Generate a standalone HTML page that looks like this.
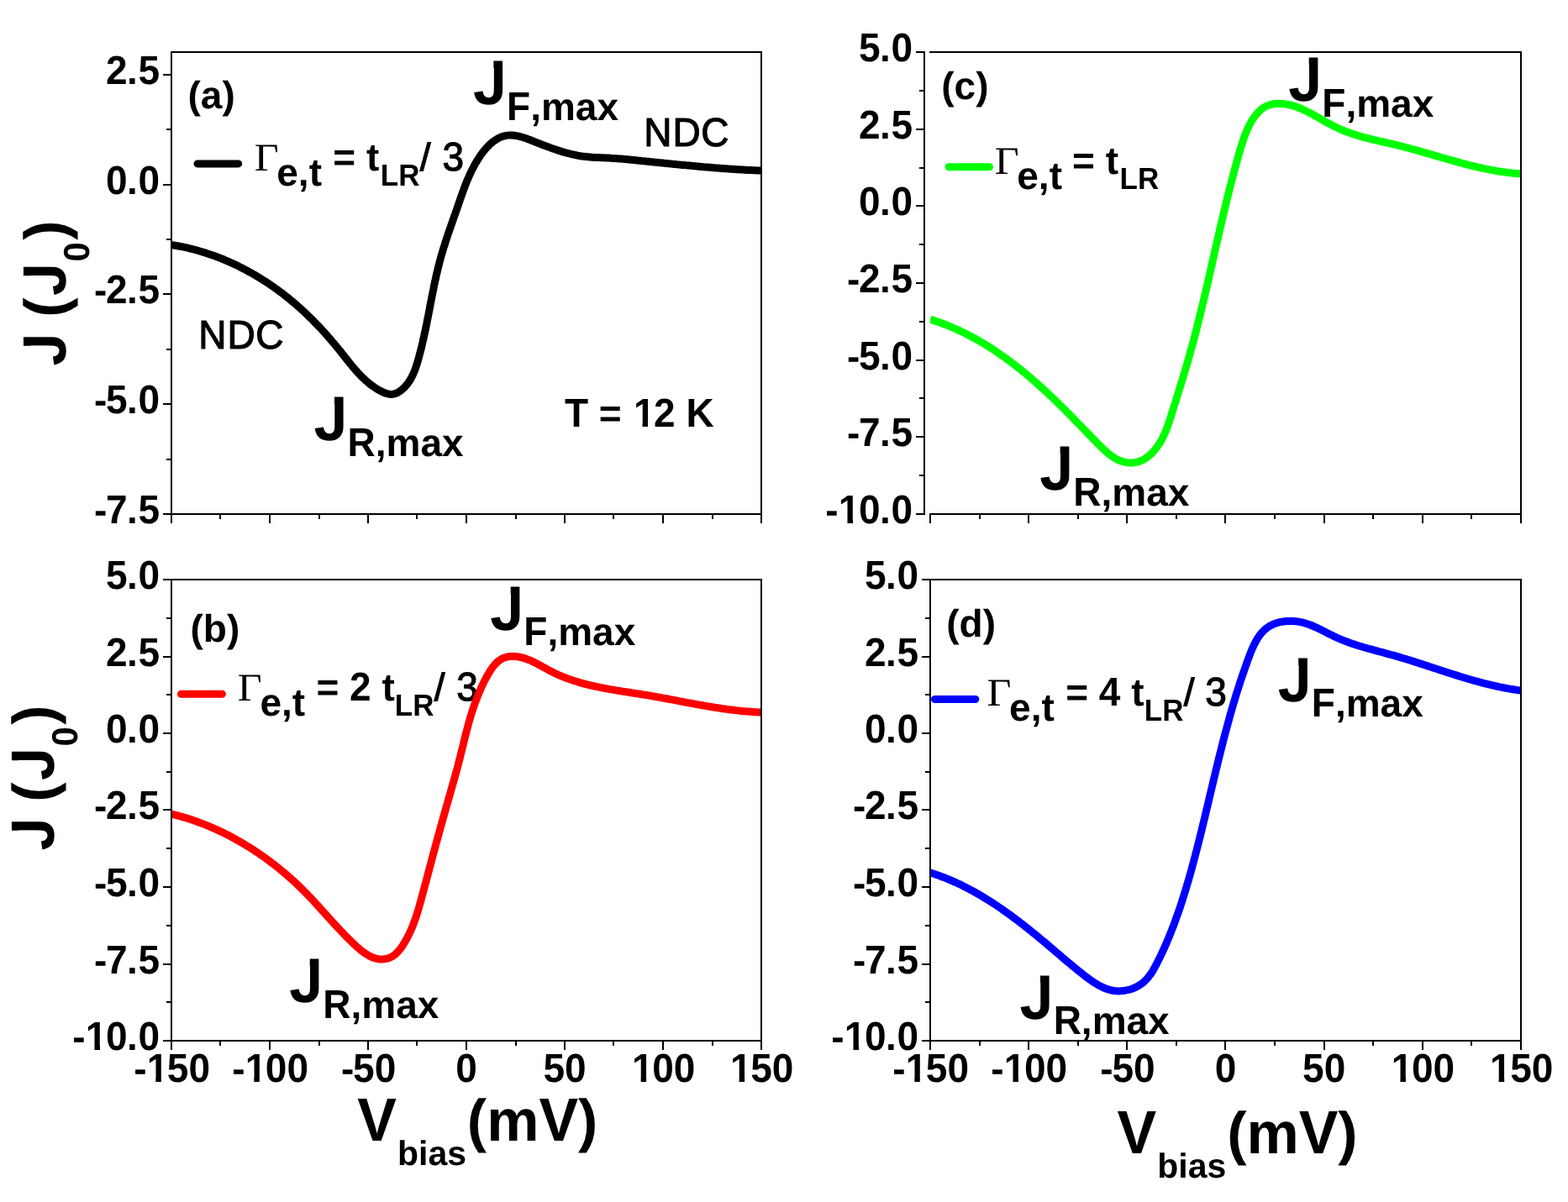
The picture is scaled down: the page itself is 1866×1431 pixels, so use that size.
<!DOCTYPE html>
<html lang="en"><head><meta charset="utf-8"><title>J versus V bias</title>
<style>
html,body{margin:0;padding:0;background:#fff;}
body{width:1866px;height:1431px;overflow:hidden;}
svg{display:block;}
text{fill:#000;font-kerning:none;font-variant-ligatures:none;text-rendering:geometricPrecision;white-space:pre;}
.b{font-family:'Liberation Sans', Arial, Helvetica, sans-serif;font-weight:bold;}
.r{font-family:'Liberation Sans', Arial, Helvetica, sans-serif;font-weight:normal;stroke:#000;stroke-width:1.15px;}
.g{font-family:'Liberation Serif', 'Times New Roman', serif;font-weight:normal;}
.cv{fill:none;stroke-width:9;stroke-linejoin:round;stroke-linecap:butt;}
</style></head><body>
<svg width="1866" height="1431" viewBox="0 0 1866 1431">
<rect width="1866" height="1431" fill="#fff"/>
<defs>
<clipPath id="clipa"><rect x="204" y="62" width="701" height="550"/></clipPath>
<clipPath id="clipb"><rect x="204" y="690" width="701" height="549"/></clipPath>
<clipPath id="clipc"><rect x="1107" y="62" width="702" height="550"/></clipPath>
<clipPath id="clipd"><rect x="1107" y="690" width="702" height="549"/></clipPath>
<clipPath id="jc"><path d="M33.9,-80 H60 V10 H-5 V-27 H33.9 Z"/></clipPath>
<clipPath id="oc"><path d="M-5,-80 H60 V-10.4 H37.3 V3 H23.1 V-10.4 H-5 Z"/></clipPath>
</defs>
<g id="legends">
<line x1="235.0" y1="194.9" x2="283.7" y2="194.9" stroke="#000000" stroke-width="9" stroke-linecap="round"/>
<line x1="215.5" y1="826.3" x2="264.4" y2="826.3" stroke="#ff0000" stroke-width="9" stroke-linecap="round"/>
<line x1="1129.1" y1="198.7" x2="1177.5" y2="198.7" stroke="#00ff00" stroke-width="9" stroke-linecap="round"/>
<line x1="1112.5" y1="832.5" x2="1160.8" y2="832.5" stroke="#0000ff" stroke-width="9" stroke-linecap="round"/>
<text class="g" font-size="46" transform="translate(302.70,203.00) scale(1.085,1.015)">Γ</text>
<text class="b" font-size="46" x="329.29" y="221.00">e,t</text>
<text class="b" font-size="46" x="383.58" y="203.00"> = t</text>
<text class="b" font-size="35" transform="translate(452.82,221.00) scale(1,1.04)">LR</text>
<text class="r" font-size="46" x="499.77" y="203.00">/</text>
<text class="r" font-size="46" transform="translate(526.53,203.00) scale(1,1.04)">3</text>
<text class="g" font-size="46" transform="translate(282.80,834.00) scale(1.085,1.015)">Γ</text>
<text class="b" font-size="46" x="309.39" y="852.00">e,t</text>
<text class="b" font-size="46" x="363.68" y="834.00"> = </text>
<text class="b" font-size="46" transform="translate(416.10,834.00) scale(1,1.04)">2</text>
<text class="b" font-size="46" x="441.68" y="834.00"> t</text>
<text class="b" font-size="35" transform="translate(469.78,852.00) scale(1,1.04)">LR</text>
<text class="r" font-size="46" x="516.74" y="834.00">/</text>
<text class="r" font-size="46" transform="translate(543.30,834.00) scale(1,1.04)">3</text>
<text class="g" font-size="46" transform="translate(1183.70,207.00) scale(1.085,1.015)">Γ</text>
<text class="b" font-size="46" x="1210.29" y="225.00">e,t</text>
<text class="b" font-size="46" x="1263.28" y="207.00"> = t</text>
<text class="b" font-size="35" transform="translate(1332.52,225.00) scale(1,1.04)">LR</text>
<text class="g" font-size="46" transform="translate(1174.50,840.00) scale(1.085,1.015)">Γ</text>
<text class="b" font-size="46" x="1201.09" y="858.00">e,t</text>
<text class="b" font-size="46" x="1255.38" y="840.00"> = </text>
<text class="b" font-size="46" transform="translate(1307.80,840.00) scale(1,1.04)">4</text>
<text class="b" font-size="46" x="1333.38" y="840.00"> t</text>
<text class="b" font-size="35" transform="translate(1361.78,858.00) scale(1,1.04)">LR</text>
<text class="r" font-size="46" x="1408.74" y="840.00">/ </text>
<text class="r" font-size="46" transform="translate(1434.30,840.00) scale(1,1.04)">3</text>
</g>
<g id="curves">
<path class="cv" clip-path="url(#clipa)" stroke="#000000" d="M204.1,291.6 L206.5,292.0 L208.9,292.4 L211.4,292.8 L213.8,293.2 L216.2,293.7 L218.6,294.2 L221.0,294.7 L223.4,295.2 L225.8,295.8 L228.2,296.4 L230.6,297.0 L232.9,297.6 L235.3,298.3 L237.7,299.0 L240.0,299.7 L242.4,300.4 L244.7,301.1 L247.1,301.9 L249.4,302.7 L251.7,303.5 L254.1,304.3 L256.4,305.1 L258.7,306.0 L261.0,306.9 L263.3,307.8 L265.6,308.7 L267.8,309.7 L270.1,310.6 L272.4,311.6 L274.6,312.6 L276.9,313.6 L279.1,314.7 L281.3,315.7 L283.6,316.8 L285.8,317.9 L288.0,319.0 L290.2,320.2 L292.4,321.3 L294.5,322.5 L296.7,323.7 L298.9,324.9 L301.0,326.1 L303.2,327.3 L305.3,328.6 L307.4,329.9 L309.5,331.2 L311.6,332.5 L313.7,333.8 L315.8,335.1 L317.9,336.5 L319.9,337.8 L322.0,339.2 L324.0,340.6 L326.0,342.0 L328.0,343.5 L330.0,344.9 L332.0,346.4 L334.0,347.9 L336.0,349.3 L337.9,350.8 L339.9,352.4 L341.8,353.9 L343.7,355.4 L345.6,357.0 L347.5,358.6 L349.4,360.1 L351.3,361.7 L353.1,363.3 L355.0,365.0 L356.8,366.6 L358.6,368.3 L360.5,369.9 L362.3,371.6 L364.0,373.3 L365.8,375.0 L367.6,376.7 L369.3,378.4 L371.1,380.1 L372.8,381.9 L374.5,383.6 L376.2,385.4 L377.9,387.1 L379.6,388.9 L381.3,390.7 L383.0,392.5 L384.7,394.3 L386.3,396.2 L388.0,398.0 L389.6,399.8 L391.2,401.7 L392.8,403.5 L394.4,405.4 L396.0,407.3 L397.6,409.2 L399.2,411.1 L400.8,413.0 L402.3,414.9 L403.9,416.8 L405.5,418.7 L407.0,420.7 L408.5,422.6 L410.1,424.6 L411.6,426.5 L413.1,428.5 L414.7,430.4 L416.2,432.3 L417.8,434.2 L419.4,436.2 L420.9,438.0 L422.5,439.9 L424.2,441.8 L425.8,443.6 L427.5,445.4 L429.2,447.2 L430.9,448.9 L432.7,450.6 L434.5,452.3 L436.3,453.9 L438.2,455.5 L440.1,457.1 L442.0,458.6 L444.1,460.0 L446.1,461.4 L448.2,462.8 L450.4,464.1 L452.6,465.3 L454.9,466.5 L457.3,467.5 L459.6,468.4 L462.0,469.0 L464.4,469.4 L466.7,469.4 L469.0,469.0 L471.2,468.3 L473.4,467.3 L475.4,466.0 L477.4,464.6 L479.3,463.0 L481.1,461.4 L482.7,459.6 L484.3,457.8 L485.7,455.9 L487.1,453.9 L488.4,451.8 L489.5,449.7 L490.7,447.6 L491.7,445.3 L492.7,443.1 L493.6,440.8 L494.5,438.4 L495.3,436.1 L496.1,433.7 L496.8,431.3 L497.5,428.9 L498.2,426.5 L498.8,424.0 L499.5,421.6 L500.1,419.2 L500.7,416.7 L501.4,414.3 L501.9,411.9 L502.5,409.5 L503.1,407.0 L503.6,404.6 L504.2,402.2 L504.7,399.8 L505.2,397.4 L505.8,394.9 L506.3,392.5 L506.8,390.1 L507.3,387.7 L507.8,385.3 L508.2,382.8 L508.7,380.4 L509.2,378.0 L509.7,375.6 L510.1,373.2 L510.6,370.8 L511.1,368.4 L511.5,366.0 L512.0,363.5 L512.4,361.1 L512.9,358.7 L513.4,356.3 L513.8,353.9 L514.3,351.5 L514.8,349.1 L515.3,346.7 L515.8,344.3 L516.2,341.9 L516.7,339.5 L517.2,337.1 L517.8,334.7 L518.3,332.3 L518.8,329.9 L519.3,327.5 L519.9,325.2 L520.5,322.8 L521.0,320.4 L521.6,318.0 L522.2,315.6 L522.8,313.2 L523.4,310.8 L524.1,308.5 L524.7,306.1 L525.4,303.7 L526.1,301.3 L526.8,299.0 L527.5,296.6 L528.2,294.2 L529.0,291.9 L529.7,289.5 L530.5,287.1 L531.2,284.8 L532.0,282.4 L532.8,280.1 L533.6,277.7 L534.4,275.4 L535.2,273.0 L536.0,270.7 L536.8,268.3 L537.7,266.0 L538.5,263.6 L539.3,261.3 L540.1,259.0 L540.9,256.6 L541.8,254.3 L542.6,252.0 L543.4,249.7 L544.2,247.3 L545.0,245.0 L545.8,242.7 L546.6,240.4 L547.4,238.1 L548.2,235.8 L549.0,233.5 L549.8,231.2 L550.6,228.9 L551.5,226.6 L552.3,224.3 L553.2,222.1 L554.0,219.8 L554.9,217.5 L555.8,215.3 L556.8,213.0 L557.8,210.8 L558.7,208.5 L559.8,206.3 L560.8,204.1 L561.9,201.9 L563.1,199.7 L564.2,197.5 L565.4,195.3 L566.7,193.1 L568.0,190.9 L569.4,188.8 L570.8,186.6 L572.2,184.5 L573.7,182.4 L575.3,180.4 L576.9,178.4 L578.6,176.4 L580.3,174.6 L582.0,172.8 L583.8,171.1 L585.7,169.5 L587.6,168.0 L589.6,166.7 L591.6,165.4 L593.7,164.3 L595.8,163.3 L598.0,162.5 L600.2,161.9 L602.5,161.4 L604.8,161.1 L607.2,161.0 L609.6,161.1 L612.1,161.3 L614.6,161.7 L617.1,162.2 L619.6,162.8 L622.0,163.5 L624.5,164.3 L626.9,165.1 L629.2,166.0 L631.5,166.8 L633.8,167.7 L636.0,168.6 L638.3,169.5 L640.5,170.4 L642.8,171.3 L645.1,172.2 L647.3,173.0 L649.6,173.9 L652.0,174.8 L654.3,175.6 L656.6,176.5 L658.9,177.3 L661.3,178.1 L663.6,178.9 L666.0,179.6 L668.4,180.4 L670.8,181.1 L673.1,181.8 L675.5,182.4 L677.9,183.0 L680.4,183.6 L682.8,184.2 L685.2,184.7 L687.6,185.2 L690.0,185.6 L692.5,186.0 L694.9,186.3 L697.3,186.6 L699.8,186.8 L702.2,187.0 L704.7,187.2 L707.1,187.4 L709.6,187.5 L712.0,187.6 L714.5,187.7 L716.9,187.8 L719.4,187.9 L721.8,188.0 L724.3,188.1 L726.7,188.3 L729.2,188.4 L731.6,188.6 L734.1,188.7 L736.5,188.9 L739.0,189.1 L741.4,189.3 L743.9,189.6 L746.4,189.8 L748.8,190.0 L751.3,190.3 L753.7,190.5 L756.2,190.7 L758.6,191.0 L761.1,191.2 L763.5,191.5 L766.0,191.7 L768.4,192.0 L770.9,192.2 L773.3,192.5 L775.8,192.7 L778.2,193.0 L780.7,193.2 L783.1,193.5 L785.6,193.7 L788.0,193.9 L790.5,194.2 L793.0,194.4 L795.4,194.7 L797.9,194.9 L800.3,195.2 L802.8,195.4 L805.2,195.7 L807.7,195.9 L810.1,196.2 L812.6,196.4 L815.0,196.6 L817.5,196.9 L819.9,197.1 L822.4,197.3 L824.8,197.6 L827.3,197.8 L829.8,198.0 L832.2,198.2 L834.7,198.4 L837.1,198.7 L839.6,198.9 L842.0,199.1 L844.5,199.3 L846.9,199.5 L849.4,199.7 L851.9,199.9 L854.3,200.1 L856.8,200.3 L859.2,200.5 L861.7,200.7 L864.2,200.8 L866.6,201.0 L869.1,201.2 L871.5,201.3 L874.0,201.5 L876.5,201.7 L878.9,201.8 L881.4,202.0 L883.8,202.1 L886.3,202.2 L888.8,202.4 L891.2,202.5 L893.7,202.6 L896.2,202.7 L898.6,202.8 L901.1,202.9 L903.6,203.0 L906.0,203.1"/>
<path class="cv" clip-path="url(#clipb)" stroke="#ff0000" d="M204.3,969.1 L206.8,969.7 L209.2,970.4 L211.7,971.0 L214.1,971.7 L216.5,972.4 L219.0,973.1 L221.4,973.8 L223.8,974.6 L226.2,975.3 L228.7,976.1 L231.1,977.0 L233.5,977.8 L235.9,978.7 L238.3,979.6 L240.6,980.5 L243.0,981.4 L245.4,982.4 L247.8,983.3 L250.1,984.3 L252.5,985.3 L254.8,986.4 L257.2,987.4 L259.5,988.5 L261.8,989.6 L264.2,990.7 L266.5,991.8 L268.8,993.0 L271.1,994.1 L273.4,995.3 L275.7,996.5 L277.9,997.8 L280.2,999.0 L282.5,1000.3 L284.7,1001.5 L287.0,1002.8 L289.2,1004.1 L291.4,1005.5 L293.6,1006.8 L295.8,1008.2 L298.0,1009.5 L300.2,1010.9 L302.4,1012.3 L304.5,1013.8 L306.7,1015.2 L308.8,1016.7 L311.0,1018.1 L313.1,1019.6 L315.2,1021.1 L317.3,1022.6 L319.4,1024.2 L321.4,1025.7 L323.5,1027.3 L325.6,1028.8 L327.6,1030.4 L329.6,1032.0 L331.6,1033.6 L333.6,1035.3 L335.6,1036.9 L337.6,1038.5 L339.6,1040.2 L341.5,1041.9 L343.4,1043.6 L345.4,1045.3 L347.3,1047.0 L349.2,1048.7 L351.1,1050.4 L352.9,1052.2 L354.8,1053.9 L356.6,1055.7 L358.4,1057.5 L360.2,1059.3 L362.0,1061.1 L363.8,1062.9 L365.6,1064.7 L367.3,1066.5 L369.1,1068.4 L370.8,1070.2 L372.5,1072.0 L374.3,1073.9 L376.0,1075.8 L377.7,1077.6 L379.4,1079.5 L381.1,1081.4 L382.8,1083.3 L384.5,1085.1 L386.2,1087.0 L387.9,1088.9 L389.6,1090.8 L391.3,1092.7 L393.0,1094.6 L394.8,1096.5 L396.5,1098.4 L398.2,1100.3 L400.0,1102.2 L401.7,1104.1 L403.5,1106.0 L405.3,1107.9 L407.1,1109.7 L408.9,1111.6 L410.7,1113.5 L412.5,1115.4 L414.4,1117.2 L416.3,1119.1 L418.2,1121.0 L420.1,1122.8 L422.0,1124.7 L424.0,1126.5 L426.0,1128.3 L428.0,1130.0 L430.1,1131.7 L432.1,1133.3 L434.3,1134.8 L436.4,1136.2 L438.6,1137.5 L440.8,1138.7 L443.0,1139.7 L445.3,1140.5 L447.6,1141.2 L450.0,1141.7 L452.4,1141.9 L454.8,1142.0 L457.3,1141.8 L459.8,1141.4 L462.2,1140.7 L464.6,1139.8 L466.8,1138.7 L468.9,1137.3 L470.9,1135.7 L472.7,1133.9 L474.5,1132.0 L476.1,1130.0 L477.7,1127.9 L479.2,1125.7 L480.6,1123.5 L481.9,1121.3 L483.2,1119.0 L484.5,1116.7 L485.7,1114.4 L486.8,1112.1 L487.9,1109.8 L489.0,1107.5 L490.0,1105.1 L491.0,1102.7 L491.9,1100.3 L492.8,1097.9 L493.7,1095.5 L494.6,1093.1 L495.4,1090.7 L496.2,1088.2 L496.9,1085.8 L497.7,1083.3 L498.4,1080.9 L499.1,1078.4 L499.8,1075.9 L500.5,1073.5 L501.2,1071.0 L501.8,1068.5 L502.5,1066.0 L503.2,1063.5 L503.8,1061.0 L504.5,1058.6 L505.2,1056.1 L505.8,1053.6 L506.5,1051.1 L507.2,1048.6 L507.8,1046.1 L508.5,1043.6 L509.1,1041.2 L509.8,1038.7 L510.5,1036.2 L511.1,1033.7 L511.8,1031.2 L512.5,1028.7 L513.1,1026.3 L513.8,1023.8 L514.4,1021.3 L515.1,1018.8 L515.8,1016.3 L516.4,1013.8 L517.1,1011.4 L517.8,1008.9 L518.4,1006.4 L519.1,1003.9 L519.8,1001.5 L520.5,999.0 L521.1,996.5 L521.8,994.0 L522.5,991.5 L523.2,989.1 L523.9,986.6 L524.5,984.1 L525.2,981.7 L525.9,979.2 L526.6,976.7 L527.3,974.2 L528.0,971.8 L528.7,969.3 L529.4,966.8 L530.1,964.4 L530.8,961.9 L531.5,959.4 L532.2,957.0 L532.9,954.5 L533.6,952.0 L534.3,949.6 L535.0,947.1 L535.7,944.7 L536.4,942.2 L537.1,939.7 L537.8,937.3 L538.5,934.8 L539.2,932.3 L539.9,929.8 L540.6,927.4 L541.3,924.9 L542.0,922.4 L542.7,919.9 L543.4,917.5 L544.0,915.0 L544.7,912.5 L545.3,910.0 L546.0,907.5 L546.6,905.0 L547.3,902.5 L547.9,900.0 L548.5,897.5 L549.1,895.0 L549.8,892.5 L550.4,890.0 L551.0,887.5 L551.6,884.9 L552.2,882.4 L552.8,879.9 L553.5,877.4 L554.1,874.9 L554.7,872.4 L555.4,869.9 L556.0,867.5 L556.7,865.0 L557.3,862.5 L558.0,860.0 L558.7,857.6 L559.4,855.1 L560.1,852.7 L560.9,850.3 L561.6,847.9 L562.4,845.4 L563.2,843.1 L564.0,840.7 L564.8,838.3 L565.7,835.9 L566.6,833.6 L567.5,831.2 L568.4,828.8 L569.4,826.5 L570.4,824.1 L571.4,821.8 L572.4,819.4 L573.5,817.0 L574.7,814.6 L575.8,812.2 L577.0,809.8 L578.3,807.4 L579.6,805.0 L580.9,802.6 L582.3,800.3 L583.7,798.0 L585.3,795.7 L586.8,793.6 L588.5,791.6 L590.2,789.8 L592.0,788.0 L593.9,786.5 L595.9,785.1 L598.0,783.9 L600.1,783.0 L602.4,782.3 L604.7,781.8 L607.1,781.5 L609.6,781.4 L612.1,781.4 L614.6,781.6 L617.2,782.0 L619.7,782.5 L622.2,783.2 L624.7,783.9 L627.2,784.8 L629.6,785.7 L632.0,786.7 L634.4,787.8 L636.7,788.9 L639.0,790.1 L641.3,791.4 L643.6,792.6 L645.9,793.9 L648.2,795.1 L650.5,796.4 L652.8,797.7 L655.1,798.9 L657.4,800.0 L659.7,801.2 L662.0,802.3 L664.3,803.3 L666.7,804.3 L669.1,805.3 L671.4,806.3 L673.8,807.2 L676.2,808.1 L678.6,808.9 L681.0,809.8 L683.5,810.6 L685.9,811.3 L688.3,812.1 L690.8,812.8 L693.2,813.5 L695.7,814.1 L698.2,814.8 L700.6,815.4 L703.1,816.0 L705.6,816.5 L708.1,817.1 L710.6,817.6 L713.1,818.2 L715.6,818.7 L718.2,819.2 L720.7,819.6 L723.2,820.1 L725.7,820.6 L728.3,821.0 L730.8,821.4 L733.3,821.9 L735.9,822.3 L738.4,822.7 L741.0,823.1 L743.5,823.5 L746.1,823.9 L748.6,824.3 L751.2,824.7 L753.7,825.1 L756.2,825.5 L758.8,825.9 L761.3,826.3 L763.9,826.7 L766.4,827.1 L769.0,827.5 L771.5,827.9 L774.0,828.3 L776.6,828.8 L779.1,829.2 L781.7,829.7 L784.2,830.1 L786.7,830.6 L789.2,831.1 L791.8,831.5 L794.3,832.0 L796.8,832.5 L799.3,832.9 L801.9,833.4 L804.4,833.9 L806.9,834.4 L809.4,834.9 L811.9,835.3 L814.5,835.8 L817.0,836.3 L819.5,836.8 L822.0,837.2 L824.5,837.7 L827.1,838.2 L829.6,838.6 L832.1,839.1 L834.6,839.5 L837.1,840.0 L839.7,840.4 L842.2,840.9 L844.7,841.3 L847.2,841.7 L849.8,842.1 L852.3,842.5 L854.8,842.9 L857.4,843.3 L859.9,843.7 L862.5,844.0 L865.0,844.4 L867.5,844.7 L870.1,845.0 L872.6,845.3 L875.2,845.6 L877.8,845.9 L880.3,846.2 L882.9,846.5 L885.4,846.7 L888.0,846.9 L890.6,847.1 L893.2,847.3 L895.7,847.5 L898.3,847.7 L900.9,847.8 L903.5,847.9 L906.1,848.0"/>
<path class="cv" clip-path="url(#clipc)" stroke="#00ff00" d="M1107.1,380.3 L1109.7,381.1 L1112.3,381.9 L1114.8,382.8 L1117.4,383.6 L1119.9,384.5 L1122.5,385.5 L1125.0,386.4 L1127.5,387.4 L1130.0,388.4 L1132.5,389.5 L1135.0,390.6 L1137.5,391.6 L1139.9,392.8 L1142.4,393.9 L1144.8,395.1 L1147.3,396.3 L1149.7,397.5 L1152.1,398.7 L1154.5,400.0 L1156.9,401.2 L1159.3,402.5 L1161.7,403.8 L1164.0,405.2 L1166.4,406.6 L1168.7,407.9 L1171.1,409.3 L1173.4,410.8 L1175.7,412.2 L1178.0,413.6 L1180.3,415.1 L1182.6,416.6 L1184.9,418.1 L1187.1,419.7 L1189.4,421.2 L1191.6,422.8 L1193.8,424.3 L1196.1,425.9 L1198.3,427.5 L1200.5,429.1 L1202.7,430.8 L1204.8,432.4 L1207.0,434.1 L1209.2,435.7 L1211.3,437.4 L1213.5,439.1 L1215.6,440.8 L1217.7,442.6 L1219.8,444.3 L1221.9,446.0 L1224.0,447.8 L1226.1,449.5 L1228.2,451.3 L1230.2,453.1 L1232.3,454.9 L1234.3,456.7 L1236.3,458.5 L1238.3,460.3 L1240.3,462.1 L1242.3,463.9 L1244.3,465.8 L1246.3,467.6 L1248.2,469.4 L1250.2,471.3 L1252.1,473.1 L1254.1,475.0 L1256.0,476.8 L1257.9,478.7 L1259.9,480.6 L1261.8,482.5 L1263.7,484.4 L1265.6,486.3 L1267.5,488.1 L1269.4,490.1 L1271.3,492.0 L1273.2,493.9 L1275.0,495.8 L1276.9,497.7 L1278.8,499.7 L1280.7,501.6 L1282.6,503.5 L1284.5,505.5 L1286.4,507.4 L1288.3,509.4 L1290.2,511.4 L1292.1,513.3 L1294.0,515.3 L1295.9,517.3 L1297.9,519.3 L1299.8,521.3 L1301.7,523.3 L1303.7,525.3 L1305.6,527.3 L1307.6,529.3 L1309.6,531.3 L1311.6,533.3 L1313.6,535.2 L1315.7,537.1 L1317.7,538.9 L1319.9,540.7 L1322.0,542.3 L1324.2,543.9 L1326.5,545.3 L1328.8,546.6 L1331.2,547.8 L1333.6,548.7 L1336.1,549.5 L1338.6,550.2 L1341.2,550.6 L1343.9,550.9 L1346.5,550.9 L1349.2,550.7 L1351.8,550.4 L1354.3,549.8 L1356.9,548.9 L1359.3,547.9 L1361.7,546.7 L1363.9,545.2 L1366.1,543.6 L1368.2,541.9 L1370.2,540.0 L1372.2,538.0 L1374.0,536.0 L1375.7,533.8 L1377.3,531.6 L1378.9,529.4 L1380.3,527.1 L1381.7,524.8 L1383.0,522.4 L1384.2,520.0 L1385.4,517.5 L1386.5,515.0 L1387.6,512.5 L1388.6,510.0 L1389.5,507.4 L1390.4,504.8 L1391.3,502.2 L1392.2,499.6 L1393.1,497.0 L1393.9,494.4 L1394.7,491.8 L1395.5,489.1 L1396.3,486.5 L1397.2,483.9 L1398.0,481.3 L1398.8,478.7 L1399.6,476.1 L1400.4,473.5 L1401.2,470.9 L1402.0,468.3 L1402.8,465.7 L1403.6,463.1 L1404.4,460.5 L1405.2,457.9 L1406.0,455.3 L1406.8,452.7 L1407.6,450.1 L1408.4,447.5 L1409.2,444.9 L1410.0,442.3 L1410.7,439.7 L1411.5,437.1 L1412.3,434.5 L1413.0,431.9 L1413.8,429.3 L1414.5,426.7 L1415.3,424.1 L1416.0,421.5 L1416.7,418.9 L1417.4,416.3 L1418.2,413.7 L1418.9,411.1 L1419.6,408.5 L1420.3,405.9 L1421.0,403.2 L1421.7,400.6 L1422.3,398.0 L1423.0,395.4 L1423.7,392.8 L1424.4,390.1 L1425.0,387.5 L1425.7,384.9 L1426.4,382.2 L1427.0,379.6 L1427.7,377.0 L1428.3,374.3 L1429.0,371.7 L1429.6,369.1 L1430.2,366.4 L1430.9,363.8 L1431.5,361.2 L1432.1,358.5 L1432.8,355.9 L1433.4,353.2 L1434.0,350.6 L1434.6,347.9 L1435.2,345.3 L1435.9,342.7 L1436.5,340.0 L1437.1,337.4 L1437.7,334.7 L1438.3,332.1 L1438.9,329.4 L1439.5,326.8 L1440.1,324.1 L1440.7,321.5 L1441.3,318.8 L1441.9,316.2 L1442.5,313.5 L1443.1,310.9 L1443.7,308.2 L1444.3,305.6 L1444.9,302.9 L1445.5,300.3 L1446.1,297.6 L1446.7,295.0 L1447.3,292.3 L1447.9,289.7 L1448.5,287.0 L1449.2,284.4 L1449.8,281.7 L1450.4,279.1 L1451.0,276.4 L1451.6,273.8 L1452.2,271.1 L1452.8,268.5 L1453.4,265.8 L1454.0,263.2 L1454.7,260.5 L1455.3,257.9 L1455.9,255.2 L1456.5,252.6 L1457.2,249.9 L1457.8,247.3 L1458.4,244.7 L1459.1,242.0 L1459.7,239.4 L1460.4,236.7 L1461.0,234.1 L1461.7,231.5 L1462.3,228.8 L1463.0,226.2 L1463.6,223.6 L1464.3,220.9 L1465.0,218.3 L1465.6,215.7 L1466.3,213.1 L1467.0,210.4 L1467.7,207.8 L1468.4,205.2 L1469.1,202.6 L1469.8,199.9 L1470.5,197.3 L1471.2,194.7 L1472.0,192.1 L1472.7,189.5 L1473.4,186.9 L1474.2,184.3 L1474.9,181.7 L1475.7,179.1 L1476.4,176.5 L1477.2,173.9 L1478.0,171.3 L1478.8,168.7 L1479.7,166.1 L1480.6,163.5 L1481.5,161.0 L1482.5,158.4 L1483.6,155.9 L1484.7,153.3 L1485.9,150.8 L1487.2,148.3 L1488.5,145.9 L1489.9,143.4 L1491.5,141.1 L1493.1,138.8 L1494.8,136.6 L1496.6,134.5 L1498.4,132.5 L1500.4,130.7 L1502.5,129.1 L1504.6,127.7 L1506.9,126.4 L1509.3,125.4 L1511.7,124.6 L1514.3,124.0 L1516.9,123.6 L1519.5,123.4 L1522.1,123.3 L1524.8,123.4 L1527.5,123.6 L1530.2,124.0 L1532.8,124.4 L1535.4,125.0 L1538.0,125.7 L1540.5,126.5 L1543.1,127.3 L1545.6,128.3 L1548.1,129.3 L1550.6,130.4 L1553.0,131.6 L1555.5,132.8 L1558.0,134.0 L1560.4,135.3 L1562.8,136.6 L1565.2,138.0 L1567.7,139.3 L1570.1,140.7 L1572.5,142.1 L1574.9,143.5 L1577.3,144.9 L1579.8,146.2 L1582.2,147.5 L1584.6,148.8 L1587.1,150.1 L1589.5,151.3 L1592.0,152.5 L1594.5,153.6 L1597.0,154.7 L1599.5,155.7 L1602.1,156.7 L1604.6,157.6 L1607.1,158.5 L1609.7,159.4 L1612.3,160.2 L1614.8,161.0 L1617.4,161.8 L1620.0,162.6 L1622.6,163.3 L1625.2,164.0 L1627.8,164.6 L1630.4,165.3 L1633.1,165.9 L1635.7,166.6 L1638.3,167.2 L1640.9,167.8 L1643.6,168.4 L1646.2,169.0 L1648.8,169.6 L1651.5,170.2 L1654.1,170.8 L1656.8,171.4 L1659.4,172.1 L1662.0,172.7 L1664.7,173.3 L1667.3,174.0 L1669.9,174.7 L1672.5,175.3 L1675.2,176.0 L1677.8,176.7 L1680.4,177.5 L1683.0,178.2 L1685.6,178.9 L1688.3,179.6 L1690.9,180.4 L1693.5,181.1 L1696.1,181.9 L1698.7,182.6 L1701.3,183.4 L1704.0,184.1 L1706.6,184.9 L1709.2,185.7 L1711.8,186.4 L1714.4,187.2 L1717.0,188.0 L1719.6,188.7 L1722.3,189.5 L1724.9,190.2 L1727.5,190.9 L1730.1,191.7 L1732.7,192.4 L1735.4,193.1 L1738.0,193.8 L1740.6,194.5 L1743.2,195.2 L1745.9,195.9 L1748.5,196.6 L1751.1,197.2 L1753.8,197.9 L1756.4,198.5 L1759.1,199.1 L1761.7,199.7 L1764.3,200.3 L1767.0,200.9 L1769.7,201.4 L1772.3,201.9 L1775.0,202.4 L1777.7,202.9 L1780.3,203.4 L1783.0,203.8 L1785.7,204.3 L1788.4,204.6 L1791.1,205.0 L1793.8,205.4 L1796.5,205.7 L1799.2,206.0 L1801.9,206.2 L1804.6,206.4 L1807.3,206.7 L1810.0,206.8"/>
<path class="cv" clip-path="url(#clipd)" stroke="#0000ff" d="M1106.9,1038.8 L1109.5,1039.7 L1112.0,1040.5 L1114.6,1041.4 L1117.1,1042.3 L1119.6,1043.2 L1122.1,1044.2 L1124.6,1045.1 L1127.1,1046.1 L1129.6,1047.2 L1132.1,1048.2 L1134.5,1049.3 L1136.9,1050.4 L1139.4,1051.5 L1141.8,1052.6 L1144.2,1053.8 L1146.6,1055.0 L1149.0,1056.2 L1151.4,1057.4 L1153.7,1058.7 L1156.1,1059.9 L1158.4,1061.2 L1160.7,1062.5 L1163.1,1063.8 L1165.4,1065.2 L1167.7,1066.5 L1170.0,1067.9 L1172.3,1069.3 L1174.5,1070.7 L1176.8,1072.1 L1179.1,1073.5 L1181.3,1075.0 L1183.6,1076.4 L1185.8,1077.9 L1188.0,1079.4 L1190.2,1080.9 L1192.4,1082.4 L1194.6,1084.0 L1196.8,1085.5 L1199.0,1087.1 L1201.2,1088.6 L1203.3,1090.2 L1205.5,1091.8 L1207.6,1093.4 L1209.8,1095.0 L1211.9,1096.6 L1214.0,1098.3 L1216.2,1099.9 L1218.3,1101.5 L1220.4,1103.2 L1222.5,1104.9 L1224.6,1106.5 L1226.7,1108.2 L1228.7,1109.9 L1230.8,1111.6 L1232.9,1113.3 L1235.0,1115.0 L1237.0,1116.7 L1239.1,1118.4 L1241.1,1120.1 L1243.2,1121.8 L1245.2,1123.5 L1247.2,1125.2 L1249.2,1127.0 L1251.3,1128.7 L1253.3,1130.4 L1255.3,1132.1 L1257.3,1133.9 L1259.3,1135.6 L1261.4,1137.3 L1263.4,1139.0 L1265.4,1140.8 L1267.4,1142.5 L1269.5,1144.2 L1271.5,1145.9 L1273.6,1147.6 L1275.6,1149.3 L1277.7,1151.1 L1279.8,1152.8 L1281.9,1154.5 L1284.0,1156.2 L1286.1,1157.8 L1288.2,1159.5 L1290.4,1161.2 L1292.5,1162.9 L1294.7,1164.5 L1296.9,1166.1 L1299.1,1167.7 L1301.4,1169.2 L1303.7,1170.7 L1306.0,1172.1 L1308.3,1173.4 L1310.6,1174.6 L1313.0,1175.8 L1315.5,1176.8 L1318.0,1177.7 L1320.5,1178.4 L1323.0,1179.0 L1325.6,1179.5 L1328.3,1179.7 L1330.9,1179.9 L1333.7,1179.8 L1336.4,1179.6 L1339.1,1179.2 L1341.8,1178.7 L1344.4,1178.0 L1347.1,1177.2 L1349.6,1176.2 L1352.1,1175.1 L1354.5,1173.8 L1356.7,1172.4 L1358.9,1170.9 L1360.9,1169.3 L1362.8,1167.5 L1364.6,1165.6 L1366.3,1163.7 L1367.9,1161.6 L1369.5,1159.5 L1370.9,1157.3 L1372.3,1155.1 L1373.6,1152.7 L1374.9,1150.4 L1376.2,1148.0 L1377.4,1145.6 L1378.6,1143.2 L1379.8,1140.8 L1381.0,1138.4 L1382.1,1136.0 L1383.3,1133.6 L1384.4,1131.1 L1385.5,1128.7 L1386.6,1126.2 L1387.7,1123.8 L1388.7,1121.3 L1389.8,1118.8 L1390.8,1116.3 L1391.8,1113.9 L1392.8,1111.4 L1393.8,1108.9 L1394.8,1106.4 L1395.8,1103.9 L1396.7,1101.4 L1397.7,1098.8 L1398.6,1096.3 L1399.5,1093.8 L1400.4,1091.3 L1401.3,1088.7 L1402.2,1086.2 L1403.1,1083.7 L1404.0,1081.1 L1404.8,1078.6 L1405.7,1076.0 L1406.5,1073.5 L1407.3,1070.9 L1408.1,1068.3 L1408.9,1065.8 L1409.7,1063.2 L1410.5,1060.7 L1411.3,1058.1 L1412.1,1055.5 L1412.8,1052.9 L1413.6,1050.4 L1414.4,1047.8 L1415.1,1045.2 L1415.8,1042.6 L1416.6,1040.0 L1417.3,1037.4 L1418.0,1034.9 L1418.7,1032.3 L1419.4,1029.7 L1420.1,1027.1 L1420.8,1024.5 L1421.5,1021.9 L1422.2,1019.3 L1422.8,1016.8 L1423.5,1014.2 L1424.2,1011.6 L1424.8,1009.0 L1425.5,1006.4 L1426.2,1003.8 L1426.8,1001.2 L1427.5,998.6 L1428.1,996.1 L1428.7,993.5 L1429.4,990.9 L1430.0,988.3 L1430.7,985.7 L1431.3,983.1 L1431.9,980.5 L1432.5,977.9 L1433.2,975.4 L1433.8,972.8 L1434.4,970.2 L1435.0,967.6 L1435.6,965.0 L1436.3,962.4 L1436.9,959.8 L1437.5,957.2 L1438.1,954.7 L1438.7,952.1 L1439.3,949.5 L1439.9,946.9 L1440.5,944.3 L1441.2,941.7 L1441.8,939.1 L1442.4,936.5 L1443.0,934.0 L1443.6,931.4 L1444.2,928.8 L1444.8,926.2 L1445.5,923.6 L1446.1,921.0 L1446.7,918.4 L1447.3,915.8 L1448.0,913.3 L1448.6,910.7 L1449.2,908.1 L1449.8,905.5 L1450.5,902.9 L1451.1,900.3 L1451.8,897.7 L1452.4,895.2 L1453.1,892.6 L1453.7,890.0 L1454.4,887.4 L1455.0,884.8 L1455.7,882.2 L1456.4,879.6 L1457.0,877.1 L1457.7,874.5 L1458.4,871.9 L1459.1,869.3 L1459.8,866.7 L1460.5,864.1 L1461.2,861.6 L1461.9,859.0 L1462.6,856.4 L1463.3,853.8 L1464.0,851.2 L1464.8,848.7 L1465.5,846.1 L1466.2,843.5 L1467.0,840.9 L1467.7,838.3 L1468.5,835.7 L1469.3,833.2 L1470.1,830.6 L1470.8,828.0 L1471.6,825.4 L1472.4,822.9 L1473.3,820.3 L1474.1,817.7 L1474.9,815.1 L1475.7,812.5 L1476.6,810.0 L1477.4,807.4 L1478.3,804.8 L1479.2,802.2 L1480.1,799.7 L1481.0,797.1 L1481.9,794.5 L1482.8,791.9 L1483.7,789.4 L1484.6,786.8 L1485.6,784.2 L1486.5,781.7 L1487.5,779.1 L1488.5,776.5 L1489.5,774.0 L1490.6,771.5 L1491.7,769.1 L1492.9,766.7 L1494.1,764.3 L1495.4,762.1 L1496.7,759.8 L1498.1,757.7 L1499.6,755.6 L1501.2,753.7 L1502.9,751.8 L1504.7,750.1 L1506.6,748.4 L1508.6,746.9 L1510.7,745.5 L1513.0,744.3 L1515.4,743.2 L1517.8,742.2 L1520.4,741.4 L1523.1,740.7 L1525.8,740.2 L1528.5,739.8 L1531.3,739.5 L1534.1,739.4 L1536.9,739.3 L1539.7,739.5 L1542.4,739.7 L1545.1,740.1 L1547.8,740.6 L1550.4,741.2 L1552.9,741.9 L1555.5,742.7 L1558.0,743.6 L1560.5,744.5 L1562.9,745.5 L1565.4,746.6 L1567.8,747.7 L1570.2,748.8 L1572.6,750.0 L1575.0,751.2 L1577.4,752.4 L1579.8,753.7 L1582.2,754.9 L1584.6,756.1 L1587.0,757.3 L1589.4,758.4 L1591.8,759.5 L1594.3,760.6 L1596.7,761.6 L1599.2,762.6 L1601.7,763.6 L1604.2,764.5 L1606.7,765.4 L1609.2,766.3 L1611.7,767.1 L1614.3,768.0 L1616.8,768.8 L1619.4,769.5 L1621.9,770.3 L1624.5,771.0 L1627.1,771.8 L1629.6,772.5 L1632.2,773.2 L1634.8,773.9 L1637.4,774.6 L1640.0,775.3 L1642.6,776.0 L1645.2,776.7 L1647.8,777.4 L1650.3,778.1 L1652.9,778.8 L1655.5,779.5 L1658.1,780.2 L1660.7,780.9 L1663.2,781.7 L1665.8,782.4 L1668.4,783.2 L1670.9,784.0 L1673.5,784.7 L1676.1,785.5 L1678.6,786.3 L1681.2,787.1 L1683.7,787.9 L1686.3,788.7 L1688.8,789.6 L1691.4,790.4 L1693.9,791.2 L1696.5,792.0 L1699.0,792.9 L1701.5,793.7 L1704.1,794.5 L1706.6,795.4 L1709.2,796.2 L1711.7,797.0 L1714.2,797.9 L1716.8,798.7 L1719.3,799.5 L1721.9,800.4 L1724.4,801.2 L1727.0,802.0 L1729.5,802.8 L1732.0,803.6 L1734.6,804.4 L1737.1,805.2 L1739.7,806.0 L1742.3,806.8 L1744.8,807.5 L1747.4,808.3 L1749.9,809.0 L1752.5,809.8 L1755.1,810.5 L1757.6,811.2 L1760.2,811.9 L1762.8,812.6 L1765.4,813.3 L1768.0,813.9 L1770.6,814.6 L1773.2,815.2 L1775.8,815.8 L1778.4,816.4 L1781.0,817.0 L1783.6,817.6 L1786.2,818.1 L1788.9,818.6 L1791.5,819.2 L1794.1,819.6 L1796.8,820.1 L1799.4,820.5 L1802.1,821.0 L1804.8,821.4 L1807.4,821.7 L1810.1,822.1"/>
</g>
<g id="axes">
<g fill="#000" shape-rendering="crispEdges"><rect x="203" y="61" width="704" height="2"/><rect x="203" y="611" width="704" height="2"/><rect x="905" y="61" width="2" height="552"/><rect x="203" y="61" width="2" height="552"/><rect x="194" y="88" width="9" height="2"/><rect x="198" y="153" width="5" height="2"/><rect x="194" y="219" width="9" height="2"/><rect x="198" y="284" width="5" height="2"/><rect x="194" y="349" width="9" height="2"/><rect x="198" y="415" width="5" height="2"/><rect x="194" y="480" width="9" height="2"/><rect x="198" y="546" width="5" height="2"/><rect x="194" y="611" width="9" height="2"/><rect x="203" y="613" width="2" height="10"/><rect x="261" y="613" width="2" height="5"/><rect x="320" y="613" width="2" height="10"/><rect x="379" y="613" width="2" height="5"/><rect x="437" y="613" width="2" height="10"/><rect x="495" y="613" width="2" height="5"/><rect x="554" y="613" width="2" height="10"/><rect x="613" y="613" width="2" height="5"/><rect x="671" y="613" width="2" height="10"/><rect x="729" y="613" width="2" height="5"/><rect x="788" y="613" width="2" height="10"/><rect x="847" y="613" width="2" height="5"/><rect x="905" y="613" width="2" height="10"/></g>
<text class="b" font-size="46" transform="translate(126.05,100.00) scale(1,1.04)">2</text>
<text class="b" font-size="46" x="151.08" y="100.00">.</text>
<text class="b" font-size="46" transform="translate(164.42,100.00) scale(1,1.04)">5</text>
<text class="b" font-size="46" transform="translate(126.05,231.00) scale(1,1.04)">0</text>
<text class="b" font-size="46" x="151.08" y="231.00">.</text>
<text class="b" font-size="46" transform="translate(164.42,231.00) scale(1,1.04)">0</text>
<text class="b" font-size="46" x="111.93" y="361.00">-</text>
<text class="b" font-size="46" transform="translate(126.05,361.00) scale(1,1.04)">2</text>
<text class="b" font-size="46" x="151.08" y="361.00">.</text>
<text class="b" font-size="46" transform="translate(164.42,361.00) scale(1,1.04)">5</text>
<text class="b" font-size="46" x="111.93" y="492.00">-</text>
<text class="b" font-size="46" transform="translate(126.05,492.00) scale(1,1.04)">5</text>
<text class="b" font-size="46" x="151.08" y="492.00">.</text>
<text class="b" font-size="46" transform="translate(164.42,492.00) scale(1,1.04)">0</text>
<text class="b" font-size="46" x="111.93" y="623.00">-</text>
<text class="b" font-size="46" transform="translate(126.05,623.00) scale(1,1.04)">7</text>
<text class="b" font-size="46" x="151.08" y="623.00">.</text>
<text class="b" font-size="46" transform="translate(164.42,623.00) scale(1,1.04)">5</text>
<g fill="#000" shape-rendering="crispEdges"><rect x="203" y="689" width="704" height="2"/><rect x="203" y="1238" width="704" height="2"/><rect x="905" y="689" width="2" height="551"/><rect x="203" y="689" width="2" height="551"/><rect x="194" y="689" width="9" height="2"/><rect x="198" y="735" width="5" height="2"/><rect x="194" y="781" width="9" height="2"/><rect x="198" y="826" width="5" height="2"/><rect x="194" y="872" width="9" height="2"/><rect x="198" y="918" width="5" height="2"/><rect x="194" y="963" width="9" height="2"/><rect x="198" y="1009" width="5" height="2"/><rect x="194" y="1055" width="9" height="2"/><rect x="198" y="1101" width="5" height="2"/><rect x="194" y="1147" width="9" height="2"/><rect x="198" y="1192" width="5" height="2"/><rect x="194" y="1238" width="9" height="2"/><rect x="203" y="1240" width="2" height="10"/><rect x="261" y="1240" width="2" height="5"/><rect x="320" y="1240" width="2" height="10"/><rect x="379" y="1240" width="2" height="5"/><rect x="437" y="1240" width="2" height="10"/><rect x="495" y="1240" width="2" height="5"/><rect x="554" y="1240" width="2" height="10"/><rect x="613" y="1240" width="2" height="5"/><rect x="671" y="1240" width="2" height="10"/><rect x="729" y="1240" width="2" height="5"/><rect x="788" y="1240" width="2" height="10"/><rect x="847" y="1240" width="2" height="5"/><rect x="905" y="1240" width="2" height="10"/></g>
<text class="b" font-size="46" transform="translate(126.05,701.00) scale(1,1.04)">5</text>
<text class="b" font-size="46" x="151.08" y="701.00">.</text>
<text class="b" font-size="46" transform="translate(164.42,701.00) scale(1,1.04)">0</text>
<text class="b" font-size="46" transform="translate(126.05,793.00) scale(1,1.04)">2</text>
<text class="b" font-size="46" x="151.08" y="793.00">.</text>
<text class="b" font-size="46" transform="translate(164.42,793.00) scale(1,1.04)">5</text>
<text class="b" font-size="46" transform="translate(126.05,884.00) scale(1,1.04)">0</text>
<text class="b" font-size="46" x="151.08" y="884.00">.</text>
<text class="b" font-size="46" transform="translate(164.42,884.00) scale(1,1.04)">0</text>
<text class="b" font-size="46" x="111.93" y="975.00">-</text>
<text class="b" font-size="46" transform="translate(126.05,975.00) scale(1,1.04)">2</text>
<text class="b" font-size="46" x="151.08" y="975.00">.</text>
<text class="b" font-size="46" transform="translate(164.42,975.00) scale(1,1.04)">5</text>
<text class="b" font-size="46" x="111.93" y="1067.00">-</text>
<text class="b" font-size="46" transform="translate(126.05,1067.00) scale(1,1.04)">5</text>
<text class="b" font-size="46" x="151.08" y="1067.00">.</text>
<text class="b" font-size="46" transform="translate(164.42,1067.00) scale(1,1.04)">0</text>
<text class="b" font-size="46" x="111.93" y="1159.00">-</text>
<text class="b" font-size="46" transform="translate(126.05,1159.00) scale(1,1.04)">7</text>
<text class="b" font-size="46" x="151.08" y="1159.00">.</text>
<text class="b" font-size="46" transform="translate(164.42,1159.00) scale(1,1.04)">5</text>
<text class="b" font-size="46" x="86.35" y="1250.00">-</text>
<g transform="translate(101.85,1250.00) scale(0.4600,0.4784)"><text class="b" font-size="100" clip-path="url(#oc)">1</text></g>
<text class="b" font-size="46" transform="translate(126.05,1250.00) scale(1,1.04)">0</text>
<text class="b" font-size="46" x="151.08" y="1250.00">.</text>
<text class="b" font-size="46" transform="translate(164.42,1250.00) scale(1,1.04)">0</text>
<text class="b" font-size="46" x="159.16" y="1288.00">-</text>
<g transform="translate(174.66,1288.00) scale(0.4600,0.4784)"><text class="b" font-size="100" clip-path="url(#oc)">1</text></g>
<text class="b" font-size="46" transform="translate(198.87,1288.00) scale(1,1.04)">50</text>
<text class="b" font-size="46" x="276.16" y="1288.00">-</text>
<g transform="translate(291.66,1288.00) scale(0.4600,0.4784)"><text class="b" font-size="100" clip-path="url(#oc)">1</text></g>
<text class="b" font-size="46" transform="translate(315.87,1288.00) scale(1,1.04)">00</text>
<text class="b" font-size="46" x="405.95" y="1288.00">-</text>
<text class="b" font-size="46" transform="translate(420.08,1288.00) scale(1,1.04)">50</text>
<text class="b" font-size="46" transform="translate(542.21,1288.00) scale(1,1.04)">0</text>
<text class="b" font-size="46" transform="translate(646.42,1288.00) scale(1,1.04)">50</text>
<g transform="translate(752.01,1288.00) scale(0.4600,0.4784)"><text class="b" font-size="100" clip-path="url(#oc)">1</text></g>
<text class="b" font-size="46" transform="translate(776.21,1288.00) scale(1,1.04)">00</text>
<g transform="translate(869.01,1288.00) scale(0.4600,0.4784)"><text class="b" font-size="100" clip-path="url(#oc)">1</text></g>
<text class="b" font-size="46" transform="translate(893.21,1288.00) scale(1,1.04)">50</text>
<g fill="#000" shape-rendering="crispEdges"><rect x="1106" y="61" width="705" height="2"/><rect x="1106" y="611" width="705" height="2"/><rect x="1809" y="61" width="2" height="552"/><rect x="1099" y="61" width="2" height="552"/><rect x="1090" y="61" width="9" height="2"/><rect x="1094" y="107" width="5" height="2"/><rect x="1090" y="153" width="9" height="2"/><rect x="1094" y="199" width="5" height="2"/><rect x="1090" y="244" width="9" height="2"/><rect x="1094" y="290" width="5" height="2"/><rect x="1090" y="336" width="9" height="2"/><rect x="1094" y="382" width="5" height="2"/><rect x="1090" y="428" width="9" height="2"/><rect x="1094" y="473" width="5" height="2"/><rect x="1090" y="519" width="9" height="2"/><rect x="1094" y="565" width="5" height="2"/><rect x="1090" y="611" width="9" height="2"/><rect x="1106" y="613" width="2" height="10"/><rect x="1165" y="613" width="2" height="5"/><rect x="1223" y="613" width="2" height="10"/><rect x="1282" y="613" width="2" height="5"/><rect x="1340" y="613" width="2" height="10"/><rect x="1399" y="613" width="2" height="5"/><rect x="1457" y="613" width="2" height="10"/><rect x="1516" y="613" width="2" height="5"/><rect x="1575" y="613" width="2" height="10"/><rect x="1633" y="613" width="2" height="5"/><rect x="1692" y="613" width="2" height="10"/><rect x="1750" y="613" width="2" height="5"/><rect x="1809" y="613" width="2" height="10"/></g>
<text class="b" font-size="46" transform="translate(1022.05,73.00) scale(1,1.04)">5</text>
<text class="b" font-size="46" x="1047.08" y="73.00">.</text>
<text class="b" font-size="46" transform="translate(1060.42,73.00) scale(1,1.04)">0</text>
<text class="b" font-size="46" transform="translate(1022.05,165.00) scale(1,1.04)">2</text>
<text class="b" font-size="46" x="1047.08" y="165.00">.</text>
<text class="b" font-size="46" transform="translate(1060.42,165.00) scale(1,1.04)">5</text>
<text class="b" font-size="46" transform="translate(1022.05,256.00) scale(1,1.04)">0</text>
<text class="b" font-size="46" x="1047.08" y="256.00">.</text>
<text class="b" font-size="46" transform="translate(1060.42,256.00) scale(1,1.04)">0</text>
<text class="b" font-size="46" x="1007.93" y="348.00">-</text>
<text class="b" font-size="46" transform="translate(1022.05,348.00) scale(1,1.04)">2</text>
<text class="b" font-size="46" x="1047.08" y="348.00">.</text>
<text class="b" font-size="46" transform="translate(1060.42,348.00) scale(1,1.04)">5</text>
<text class="b" font-size="46" x="1007.93" y="440.00">-</text>
<text class="b" font-size="46" transform="translate(1022.05,440.00) scale(1,1.04)">5</text>
<text class="b" font-size="46" x="1047.08" y="440.00">.</text>
<text class="b" font-size="46" transform="translate(1060.42,440.00) scale(1,1.04)">0</text>
<text class="b" font-size="46" x="1007.93" y="531.00">-</text>
<text class="b" font-size="46" transform="translate(1022.05,531.00) scale(1,1.04)">7</text>
<text class="b" font-size="46" x="1047.08" y="531.00">.</text>
<text class="b" font-size="46" transform="translate(1060.42,531.00) scale(1,1.04)">5</text>
<text class="b" font-size="46" x="982.35" y="623.00">-</text>
<g transform="translate(997.85,623.00) scale(0.4600,0.4784)"><text class="b" font-size="100" clip-path="url(#oc)">1</text></g>
<text class="b" font-size="46" transform="translate(1022.05,623.00) scale(1,1.04)">0</text>
<text class="b" font-size="46" x="1047.08" y="623.00">.</text>
<text class="b" font-size="46" transform="translate(1060.42,623.00) scale(1,1.04)">0</text>
<g fill="#000" shape-rendering="crispEdges"><rect x="1106" y="689" width="705" height="2"/><rect x="1106" y="1238" width="705" height="2"/><rect x="1809" y="689" width="2" height="551"/><rect x="1106" y="689" width="2" height="551"/><rect x="1097" y="689" width="9" height="2"/><rect x="1101" y="735" width="5" height="2"/><rect x="1097" y="781" width="9" height="2"/><rect x="1101" y="826" width="5" height="2"/><rect x="1097" y="872" width="9" height="2"/><rect x="1101" y="918" width="5" height="2"/><rect x="1097" y="963" width="9" height="2"/><rect x="1101" y="1009" width="5" height="2"/><rect x="1097" y="1055" width="9" height="2"/><rect x="1101" y="1101" width="5" height="2"/><rect x="1097" y="1147" width="9" height="2"/><rect x="1101" y="1192" width="5" height="2"/><rect x="1097" y="1238" width="9" height="2"/><rect x="1106" y="1240" width="2" height="10"/><rect x="1165" y="1240" width="2" height="5"/><rect x="1223" y="1240" width="2" height="10"/><rect x="1282" y="1240" width="2" height="5"/><rect x="1340" y="1240" width="2" height="10"/><rect x="1399" y="1240" width="2" height="5"/><rect x="1457" y="1240" width="2" height="10"/><rect x="1516" y="1240" width="2" height="5"/><rect x="1575" y="1240" width="2" height="10"/><rect x="1633" y="1240" width="2" height="5"/><rect x="1692" y="1240" width="2" height="10"/><rect x="1750" y="1240" width="2" height="5"/><rect x="1809" y="1240" width="2" height="10"/></g>
<text class="b" font-size="46" transform="translate(1029.05,701.00) scale(1,1.04)">5</text>
<text class="b" font-size="46" x="1054.08" y="701.00">.</text>
<text class="b" font-size="46" transform="translate(1067.42,701.00) scale(1,1.04)">0</text>
<text class="b" font-size="46" transform="translate(1029.05,793.00) scale(1,1.04)">2</text>
<text class="b" font-size="46" x="1054.08" y="793.00">.</text>
<text class="b" font-size="46" transform="translate(1067.42,793.00) scale(1,1.04)">5</text>
<text class="b" font-size="46" transform="translate(1029.05,884.00) scale(1,1.04)">0</text>
<text class="b" font-size="46" x="1054.08" y="884.00">.</text>
<text class="b" font-size="46" transform="translate(1067.42,884.00) scale(1,1.04)">0</text>
<text class="b" font-size="46" x="1014.93" y="975.00">-</text>
<text class="b" font-size="46" transform="translate(1029.05,975.00) scale(1,1.04)">2</text>
<text class="b" font-size="46" x="1054.08" y="975.00">.</text>
<text class="b" font-size="46" transform="translate(1067.42,975.00) scale(1,1.04)">5</text>
<text class="b" font-size="46" x="1014.93" y="1067.00">-</text>
<text class="b" font-size="46" transform="translate(1029.05,1067.00) scale(1,1.04)">5</text>
<text class="b" font-size="46" x="1054.08" y="1067.00">.</text>
<text class="b" font-size="46" transform="translate(1067.42,1067.00) scale(1,1.04)">0</text>
<text class="b" font-size="46" x="1014.93" y="1159.00">-</text>
<text class="b" font-size="46" transform="translate(1029.05,1159.00) scale(1,1.04)">7</text>
<text class="b" font-size="46" x="1054.08" y="1159.00">.</text>
<text class="b" font-size="46" transform="translate(1067.42,1159.00) scale(1,1.04)">5</text>
<text class="b" font-size="46" x="989.35" y="1250.00">-</text>
<g transform="translate(1004.85,1250.00) scale(0.4600,0.4784)"><text class="b" font-size="100" clip-path="url(#oc)">1</text></g>
<text class="b" font-size="46" transform="translate(1029.05,1250.00) scale(1,1.04)">0</text>
<text class="b" font-size="46" x="1054.08" y="1250.00">.</text>
<text class="b" font-size="46" transform="translate(1067.42,1250.00) scale(1,1.04)">0</text>
<text class="b" font-size="46" x="1062.16" y="1288.00">-</text>
<g transform="translate(1077.66,1288.00) scale(0.4600,0.4784)"><text class="b" font-size="100" clip-path="url(#oc)">1</text></g>
<text class="b" font-size="46" transform="translate(1101.87,1288.00) scale(1,1.04)">50</text>
<text class="b" font-size="46" x="1179.33" y="1288.00">-</text>
<g transform="translate(1194.83,1288.00) scale(0.4600,0.4784)"><text class="b" font-size="100" clip-path="url(#oc)">1</text></g>
<text class="b" font-size="46" transform="translate(1219.03,1288.00) scale(1,1.04)">00</text>
<text class="b" font-size="46" x="1309.29" y="1288.00">-</text>
<text class="b" font-size="46" transform="translate(1323.41,1288.00) scale(1,1.04)">50</text>
<text class="b" font-size="46" transform="translate(1445.71,1288.00) scale(1,1.04)">0</text>
<text class="b" font-size="46" transform="translate(1550.08,1288.00) scale(1,1.04)">50</text>
<g transform="translate(1655.84,1288.00) scale(0.4600,0.4784)"><text class="b" font-size="100" clip-path="url(#oc)">1</text></g>
<text class="b" font-size="46" transform="translate(1680.04,1288.00) scale(1,1.04)">00</text>
<g transform="translate(1773.01,1288.00) scale(0.4600,0.4784)"><text class="b" font-size="100" clip-path="url(#oc)">1</text></g>
<text class="b" font-size="46" transform="translate(1797.21,1288.00) scale(1,1.04)">50</text>
</g>
<g id="labels">
<text class="b" font-size="46" x="223.50" y="129.00">(a)</text>
<text class="b" font-size="46" x="226.50" y="763.50">(b)</text>
<text class="b" font-size="46" x="1120.30" y="118.00">(c)</text>
<text class="b" font-size="46" x="1126.30" y="758.00">(d)</text>
<text class="r" font-size="46" transform="translate(766.30,173.50) scale(1,1.04)">N</text>
<text class="r" font-size="46" transform="translate(800.42,173.50) scale(1,1.04)">D</text>
<text class="r" font-size="46" transform="translate(834.24,173.50) scale(1,1.04)">C</text>
<text class="r" font-size="46" transform="translate(236.30,415.00) scale(1,1.04)">N</text>
<text class="r" font-size="46" transform="translate(270.42,415.00) scale(1,1.04)">D</text>
<text class="r" font-size="46" transform="translate(304.24,415.00) scale(1,1.04)">C</text>
<text class="b" font-size="46" transform="translate(672.00,508.00) scale(1,1.04)">T</text>
<text class="b" font-size="46" x="700.10" y="508.00"> = </text>
<g transform="translate(753.90,508.00) scale(0.4600,0.4784)"><text class="b" font-size="100" clip-path="url(#oc)">1</text></g>
<text class="b" font-size="46" transform="translate(778.11,508.00) scale(1,1.04)">2</text>
<text class="b" font-size="46" transform="translate(816.47,508.00) scale(1,1.04)">K</text>
<g transform="translate(563.00,124.00) scale(0.7200,0.7488)"><text class="b" font-size="100" clip-path="url(#jc)">J</text></g>
<text class="b" font-size="46" transform="translate(603.04,142.50) scale(1,1.04)">F</text>
<text class="b" font-size="46" x="631.14" y="142.50">,max</text>
<g transform="translate(373.50,524.00) scale(0.7200,0.7488)"><text class="b" font-size="100" clip-path="url(#jc)">J</text></g>
<text class="b" font-size="46" transform="translate(413.54,542.50) scale(1,1.04)">R</text>
<text class="b" font-size="46" x="446.76" y="542.50">,max</text>
<g transform="translate(583.30,749.70) scale(0.7200,0.7488)"><text class="b" font-size="100" clip-path="url(#jc)">J</text></g>
<text class="b" font-size="46" transform="translate(623.34,768.20) scale(1,1.04)">F</text>
<text class="b" font-size="46" x="651.44" y="768.20">,max</text>
<g transform="translate(344.30,1193.00) scale(0.7200,0.7488)"><text class="b" font-size="100" clip-path="url(#jc)">J</text></g>
<text class="b" font-size="46" transform="translate(384.34,1211.50) scale(1,1.04)">R</text>
<text class="b" font-size="46" x="417.56" y="1211.50">,max</text>
<g transform="translate(1533.30,120.20) scale(0.7200,0.7488)"><text class="b" font-size="100" clip-path="url(#jc)">J</text></g>
<text class="b" font-size="46" transform="translate(1573.34,138.70) scale(1,1.04)">F</text>
<text class="b" font-size="46" x="1601.44" y="138.70">,max</text>
<g transform="translate(1237.20,583.30) scale(0.7200,0.7488)"><text class="b" font-size="100" clip-path="url(#jc)">J</text></g>
<text class="b" font-size="46" transform="translate(1277.24,601.80) scale(1,1.04)">R</text>
<text class="b" font-size="46" x="1310.46" y="601.80">,max</text>
<g transform="translate(1520.80,834.50) scale(0.7200,0.7488)"><text class="b" font-size="100" clip-path="url(#jc)">J</text></g>
<text class="b" font-size="46" transform="translate(1560.84,853.00) scale(1,1.04)">F</text>
<text class="b" font-size="46" x="1588.94" y="853.00">,max</text>
<g transform="translate(1213.60,1212.80) scale(0.7200,0.7488)"><text class="b" font-size="100" clip-path="url(#jc)">J</text></g>
<text class="b" font-size="46" transform="translate(1253.64,1231.30) scale(1,1.04)">R</text>
<text class="b" font-size="46" x="1286.86" y="1231.30">,max</text>
<g transform="translate(78.3,435.5) rotate(-90)">
<g transform="translate(0.00,0.00) scale(0.7000,0.7280)"><text class="b" font-size="100" clip-path="url(#jc)">J</text></g>
<text class="b" font-size="70" x="57.88" y="0.00">(</text>
<g transform="translate(83.49,0.00) scale(0.7000,0.7280)"><text class="b" font-size="100" clip-path="url(#jc)">J</text></g>
<text class="b" font-size="41.5" transform="translate(123.92,27.50) scale(1,1.04)">0</text>
<text class="b" font-size="70" x="149.70" y="0.00">)</text>
</g>
<g transform="translate(64.3,1012.5) rotate(-90)">
<g transform="translate(0.00,0.00) scale(0.7000,0.7280)"><text class="b" font-size="100" clip-path="url(#jc)">J</text></g>
<text class="b" font-size="70" x="57.88" y="0.00">(</text>
<g transform="translate(83.49,0.00) scale(0.7000,0.7280)"><text class="b" font-size="100" clip-path="url(#jc)">J</text></g>
<text class="b" font-size="41.5" transform="translate(123.92,27.50) scale(1,1.04)">0</text>
<text class="b" font-size="70" x="149.70" y="0.00">)</text>
</g>
<text class="b" font-size="70" transform="translate(425.30,1357.50) scale(1,1.04)">V</text>
<text class="b" font-size="41" x="472.99" y="1386.50">bias</text>
<text class="b" font-size="70" x="555.83" y="1357.50">(m</text>
<text class="b" font-size="70" transform="translate(641.38,1357.50) scale(1,1.04)">V</text>
<text class="b" font-size="70" x="688.07" y="1357.50">)</text>
<text class="b" font-size="70" transform="translate(1329.60,1373.00) scale(1,1.04)">V</text>
<text class="b" font-size="41" x="1377.29" y="1402.00">bias</text>
<text class="b" font-size="70" x="1460.13" y="1373.00">(m</text>
<text class="b" font-size="70" transform="translate(1545.68,1373.00) scale(1,1.04)">V</text>
<text class="b" font-size="70" x="1592.37" y="1373.00">)</text>
</g>
</svg></body></html>
